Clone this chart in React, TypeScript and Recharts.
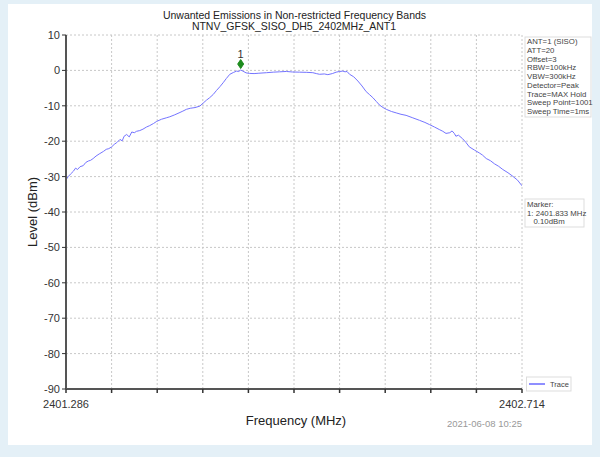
import React from 'react';
import { LineChart, Line, XAxis, YAxis, CartesianGrid, ReferenceDot } from 'recharts';

const title1 = 'Unwanted Emissions in Non-restricted Frequency Bands';
const title2 = 'NTNV_GFSK_SISO_DH5_2402MHz_ANT1';
const xLabel = 'Frequency (MHz)';
const yLabel = 'Level (dBm)';
const timestamp = '2021-06-08 10:25';
const infoLines = ['ANT=1 (SISO)', 'ATT=20', 'Offset=3', 'RBW=100kHz', 'VBW=300kHz', 'Detector=Peak', 'Trace=MAX Hold', 'Sweep Point=1001', 'Sweep Time=1ms'];
const markerLines = ['Marker:', '1: 2401.833 MHz', '   0.10dBm'];
const legendName = 'Trace';

const xMin = 2401.286;
const xMax = 2402.714;
const xTicks = [2401.286, 2401.4288, 2401.5716, 2401.7144, 2401.8572, 2402.0, 2402.1428, 2402.2856, 2402.4284, 2402.5712, 2402.714];
const yTicks = [10, 0, -10, -20, -30, -40, -50, -60, -70, -80, -90];

const markerFreq = 2401.833;
const markerLevel = 0.1;

const freqs = [
  2401.286, 2401.293, 2401.300, 2401.309, 2401.316, 2401.322, 2401.330, 2401.340, 2401.348, 2401.356,
  2401.363, 2401.371, 2401.380, 2401.390, 2401.403, 2401.412, 2401.420, 2401.429, 2401.437, 2401.445,
  2401.455, 2401.462, 2401.468, 2401.476, 2401.484, 2401.492, 2401.500, 2401.507, 2401.517, 2401.527,
  2401.538, 2401.548, 2401.560, 2401.570, 2401.585, 2401.600, 2401.611, 2401.625, 2401.640, 2401.652,
  2401.663, 2401.675, 2401.690, 2401.705, 2401.716, 2401.726, 2401.736, 2401.747, 2401.757, 2401.768,
  2401.778, 2401.788, 2401.799, 2401.810, 2401.820, 2401.827, 2401.833, 2401.840, 2401.850, 2401.861,
  2401.875, 2401.890, 2401.914, 2401.935, 2401.955, 2401.976, 2401.995, 2402.018, 2402.040, 2402.059,
  2402.070, 2402.080, 2402.095, 2402.106, 2402.120, 2402.132, 2402.143, 2402.153, 2402.160, 2402.166,
  2402.174, 2402.187, 2402.200, 2402.213, 2402.226, 2402.236, 2402.247, 2402.258, 2402.268, 2402.279,
  2402.289, 2402.305, 2402.320, 2402.335, 2402.351, 2402.372, 2402.393, 2402.410, 2402.424, 2402.440,
  2402.455, 2402.466, 2402.476, 2402.488, 2402.495, 2402.502, 2402.507, 2402.515, 2402.528, 2402.538,
  2402.549, 2402.565, 2402.580, 2402.590, 2402.602, 2402.615, 2402.628, 2402.641, 2402.654, 2402.670,
  2402.685, 2402.700, 2402.714,
];

const levels = [
  -30.9, -30.0, -29.3, -28.5, -27.6, -28.0, -27.2, -26.9, -26.0, -25.6,
  -25.4, -24.9, -24.2, -23.6, -22.9, -22.3, -22.1, -21.6, -20.9, -20.4,
  -19.5, -19.9, -18.6, -18.1, -18.8, -17.4, -17.6, -17.2, -17.0, -16.6,
  -16.0, -15.6, -15.0, -14.4, -13.8, -13.4, -13.1, -12.6, -12.0, -11.5,
  -11.0, -10.7, -10.5, -10.1, -9.2, -8.4, -7.7, -6.8, -5.7, -4.6,
  -3.5, -2.3, -1.1, -0.6, -0.2, -0.3, 0.1, -0.2, -0.7, -0.85,
  -0.9, -0.8, -0.65, -0.5, -0.4, -0.3, -0.45, -0.5, -0.55, -0.65,
  -0.9, -1.1, -1.0, -1.2, -0.9, -0.5, -0.3, -0.2, -0.4, -0.3,
  -1.1, -1.8, -3.0, -4.4, -6.0, -6.8, -7.7, -8.8, -9.8, -10.5,
  -11.0, -11.6, -12.0, -12.4, -12.7, -13.4, -14.1, -14.7, -15.3, -16.0,
  -16.7, -17.2, -17.8, -17.6, -17.1, -17.8, -18.6, -18.3, -19.3, -20.3,
  -21.6, -22.5, -23.3, -23.9, -24.9, -25.5, -26.4, -27.1, -28.0, -28.9,
  -29.9, -31.0, -32.6,
];

const data = freqs.map((f, i) => ({ freq: f, level: levels[i] }));

const FONT = '"Liberation Sans", Arial, sans-serif';

const MarkerShape = (props: any) => {
  const { cx, cy } = props;
  if (cx == null || cy == null) return null;
  const dy = cy - 6;
  return (
    <g>
      <polygon points={`${cx},${dy - 4.5} ${cx + 3},${dy} ${cx},${dy + 4.5} ${cx - 3},${dy}`} fill="#1e8c1e" stroke="#1e8c1e" />
      <text x={cx} y={dy - 6} textAnchor="middle" fontSize={11} fill="#333" fontFamily={FONT}>1</text>
    </g>
  );
};

const xTickFmt = (v: number) => {
  if (Math.abs(v - xMin) < 1e-6) return xMin.toFixed(3);
  if (Math.abs(v - xMax) < 1e-6) return xMax.toFixed(3);
  return '';
};

export default function App() {
  return (
    <div style={{ position: 'absolute', left: 0, top: 0, width: 600, height: 457, background: '#e4f0f7', overflow: 'hidden', fontFamily: FONT }}>
      <div style={{ position: 'absolute', left: 8, top: 4, width: 584, height: 441, background: '#ffffff' }} />
      <div style={{ position: 'absolute', left: 0, top: 0 }}>
        <LineChart width={600} height={457} data={data} margin={{ top: 35, right: 78, bottom: 38, left: 26 }}>
          <CartesianGrid xAxisId="b" yAxisId="l" stroke="#c8c8c8" strokeDasharray="2 2" horizontalValues={yTicks} verticalValues={xTicks} />
          <XAxis
            xAxisId="b"
            dataKey="freq"
            type="number"
            domain={[xMin, xMax]}
            ticks={xTicks}
            tickFormatter={xTickFmt}
            interval={0}
            allowDataOverflow
            height={30}
            tickSize={4}
            tick={{ fontSize: 11, fill: '#333', fontFamily: FONT, dy: 5 }}
            axisLine={{ stroke: '#555', strokeWidth: 2 }}
            tickLine={{ stroke: '#333', strokeWidth: 1.5 }}
          />
          <XAxis xAxisId="t" orientation="top" dataKey="freq" type="number" domain={[xMin, xMax]} height={0} tick={false} tickLine={false} axisLine={{ stroke: '#777', strokeWidth: 2 }} />
          <YAxis
            yAxisId="l"
            type="number"
            domain={[-90, 10]}
            ticks={yTicks}
            interval={0}
            width={40}
            tickSize={4}
            tick={{ fontSize: 11, fill: '#333', fontFamily: FONT }}
            axisLine={{ stroke: '#555', strokeWidth: 2 }}
            tickLine={{ stroke: '#333', strokeWidth: 1 }}
          />
          <YAxis yAxisId="r" orientation="right" type="number" domain={[-90, 10]} width={0} tick={false} tickLine={false} axisLine={{ stroke: '#777', strokeWidth: 2 }} />
          <Line xAxisId="b" yAxisId="l" type="linear" dataKey="level" stroke="#7474ff" strokeWidth={1} dot={false} isAnimationActive={false} />
          <ReferenceDot xAxisId="b" yAxisId="l" x={markerFreq} y={markerLevel} r={4} shape={MarkerShape} />
          <text x={294.5} y={19} textAnchor="middle" fontSize={10.5} fill="#222" fontFamily={FONT}>{title1}</text>
          <text x={294} y={29.5} textAnchor="middle" fontSize={10.5} fill="#222" fontFamily={FONT}>{title2}</text>
          <text x={296} y={425} textAnchor="middle" fontSize={13} fill="#222" fontFamily={FONT}>{xLabel}</text>
          <text x={522} y={427} textAnchor="end" fontSize={9.5} fill="#999" fontFamily={FONT}>{timestamp}</text>
          <text transform="translate(37,212) rotate(-90)" textAnchor="middle" fontSize={13} fill="#222" fontFamily={FONT}>{yLabel}</text>
          <rect x={525} y={37} width={66} height={80} fill="#fff" stroke="#ddd" strokeWidth={1} />
          {infoLines.map((s, i) => (
            <text key={s} x={527} y={44 + i * 8.75} fontSize={7.8} fill="#444" fontFamily={FONT}>{s}</text>
          ))}
          <rect x={525} y={199} width={59} height={28} fill="#fff" stroke="#ddd" strokeWidth={1} />
          {markerLines.map((s, i) => (
            <text key={i} x={527} y={207 + i * 8.6} fontSize={7.8} fill="#444" fontFamily={FONT} style={{ whiteSpace: 'pre' }}>{s}</text>
          ))}
          <rect x={526.5} y={377} width={44.5} height={14} fill="#fff" stroke="#ddd" strokeWidth={1} />
          <line x1={529} y1={384} x2={545} y2={384} stroke="#6a6aff" strokeWidth={1.5} />
          <text x={550} y={386.5} fontSize={7.5} fill="#444" fontFamily={FONT}>{legendName}</text>
        </LineChart>
      </div>
    </div>
  );
}
